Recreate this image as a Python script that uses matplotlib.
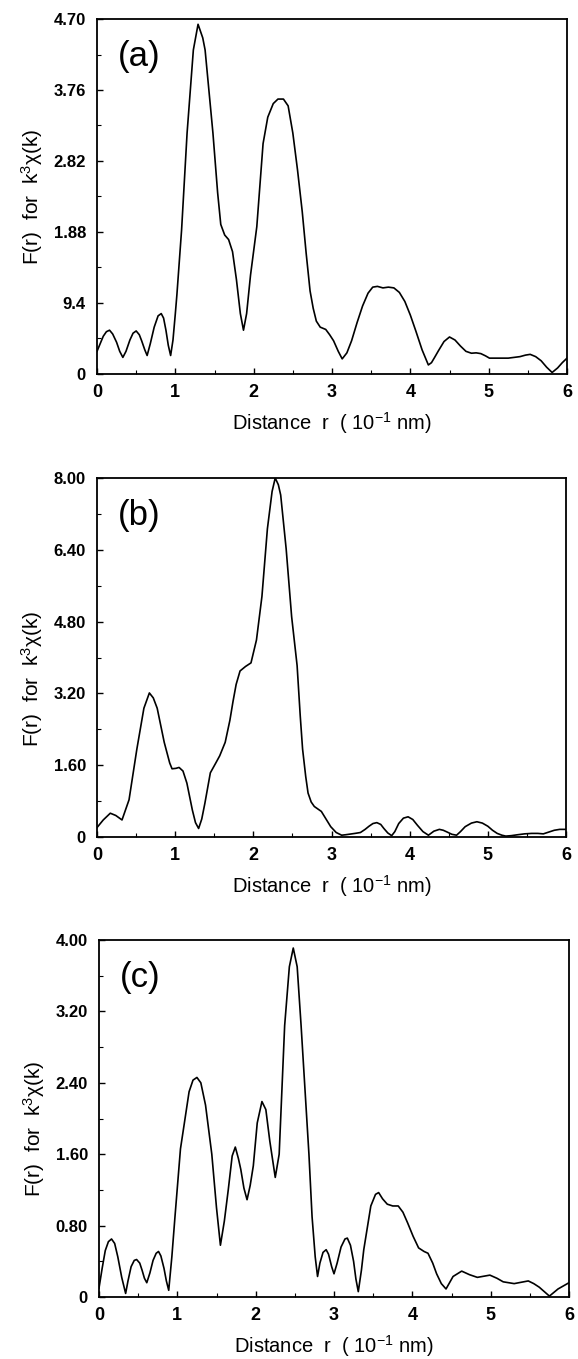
import matplotlib

matplotlib.use("Agg")
import matplotlib.pyplot as plt
from matplotlib.ticker import MultipleLocator

plt.rcParams["font.family"] = ["Liberation Sans", "DejaVu Sans"]
plt.rcParams["mathtext.fontset"] = "custom"
plt.rcParams["mathtext.rm"] = "Liberation Sans"
plt.rcParams["mathtext.it"] = "Liberation Sans:italic"

# panel (a)
r_a = [0.00, 0.04, 0.08, 0.12, 0.16, 0.20, 0.25, 0.29, 0.33, 0.37, 0.42, 0.46, 0.50, 0.54,
       0.57, 0.61, 0.64, 0.68, 0.73, 0.78, 0.82, 0.85, 0.88, 0.91, 0.94, 0.97, 1.00, 1.02,
       1.08, 1.15, 1.23, 1.29, 1.35, 1.38, 1.48, 1.54, 1.58, 1.63, 1.68, 1.73, 1.78,
       1.83, 1.87, 1.91, 1.96, 2.04, 2.12, 2.18, 2.25, 2.31, 2.38, 2.44, 2.50, 2.56, 2.62,
       2.67, 2.72, 2.76, 2.80, 2.85, 2.92, 2.97, 3.02, 3.08, 3.13, 3.19, 3.25, 3.32, 3.39,
       3.46, 3.52, 3.58, 3.65, 3.72, 3.79, 3.86, 3.93, 4.00, 4.07, 4.15, 4.23, 4.27, 4.31,
       4.36, 4.43, 4.50, 4.57, 4.64, 4.71, 4.78, 4.84, 4.90, 4.96, 5.01, 5.13, 5.25, 5.40,
       5.47, 5.53, 5.60, 5.67, 5.74, 5.81, 5.88, 5.94, 6.00]
f_a = [0.30, 0.40, 0.50, 0.56, 0.58, 0.53, 0.42, 0.30, 0.22, 0.30, 0.45, 0.54, 0.57, 0.52,
       0.44, 0.32, 0.245, 0.40, 0.62, 0.77, 0.80, 0.74, 0.58, 0.38, 0.245, 0.45, 0.80, 1.05,
       1.91, 3.19, 4.29, 4.63, 4.45, 4.29, 3.19, 2.40, 1.98, 1.84, 1.78, 1.62, 1.25,
       0.80, 0.58, 0.80, 1.31, 1.95, 3.05, 3.40, 3.58, 3.64, 3.64, 3.55, 3.19, 2.70, 2.15,
       1.60, 1.10, 0.87, 0.70, 0.62, 0.59, 0.52, 0.44, 0.30, 0.20, 0.28, 0.44, 0.68, 0.90,
       1.07, 1.15, 1.16, 1.14, 1.15, 1.14, 1.08, 0.96, 0.78, 0.57, 0.32, 0.12, 0.15, 0.22,
       0.31, 0.43, 0.49, 0.45, 0.37, 0.30, 0.275, 0.28, 0.27, 0.24, 0.21, 0.21, 0.21, 0.23,
       0.25, 0.26, 0.23, 0.175, 0.09, 0.02, 0.08, 0.15, 0.21]

# panel (b)
r_b = [0.00, 0.08, 0.17, 0.24, 0.32, 0.41, 0.51, 0.60, 0.67, 0.72, 0.77, 0.86, 0.93, 0.96,
       1.01, 1.05, 1.10, 1.15, 1.22, 1.26, 1.30, 1.34, 1.38, 1.45, 1.52, 1.57, 1.64, 1.70,
       1.74, 1.78, 1.83, 1.90, 1.97, 2.04, 2.11, 2.18, 2.24, 2.28, 2.32, 2.35, 2.42, 2.49,
       2.56, 2.60, 2.63, 2.67, 2.70, 2.74, 2.78, 2.87, 2.93, 2.99, 3.06, 3.13, 3.18, 3.22,
       3.30, 3.37, 3.43, 3.48, 3.53, 3.58, 3.63, 3.67, 3.72, 3.77, 3.81, 3.86, 3.92, 3.98,
       4.04, 4.10, 4.17, 4.24, 4.31, 4.38, 4.43, 4.48, 4.54, 4.60, 4.65, 4.71, 4.79, 4.86,
       4.93, 5.00, 5.06, 5.12, 5.18, 5.23, 5.30, 5.38, 5.47, 5.56, 5.64, 5.71, 5.78, 5.85,
       5.92, 6.00]
f_b = [0.21, 0.38, 0.53, 0.48, 0.38, 0.83, 1.96, 2.87, 3.21, 3.10, 2.87, 2.11, 1.65, 1.52,
       1.53, 1.55, 1.47, 1.20, 0.60, 0.32, 0.19, 0.40, 0.75, 1.43, 1.65, 1.81, 2.11, 2.60,
       3.02, 3.40, 3.70, 3.80, 3.88, 4.39, 5.36, 6.87, 7.70, 8.00, 7.85, 7.62, 6.42, 4.91,
       3.82, 2.70, 1.96, 1.35, 0.98, 0.78, 0.68, 0.57, 0.40, 0.23, 0.10, 0.04, 0.05, 0.06,
       0.08, 0.10, 0.17, 0.24, 0.30, 0.32, 0.28, 0.19, 0.09, 0.03, 0.12, 0.30, 0.42, 0.45,
       0.39, 0.26, 0.12, 0.04, 0.13, 0.17, 0.15, 0.11, 0.06, 0.04, 0.12, 0.23, 0.31, 0.34,
       0.31, 0.24, 0.15, 0.08, 0.04, 0.02, 0.03, 0.05, 0.07, 0.08, 0.08, 0.07, 0.11, 0.15,
       0.17, 0.17]

# panel (c)
r_c = [0.00, 0.04, 0.08, 0.12, 0.16, 0.20, 0.24, 0.29, 0.34, 0.37, 0.41, 0.45, 0.48, 0.52,
       0.55, 0.58, 0.61, 0.65, 0.69, 0.73, 0.76, 0.79, 0.83, 0.86, 0.89, 0.93, 0.97, 1.04,
       1.09, 1.15, 1.20, 1.25, 1.30, 1.36, 1.44, 1.50, 1.55, 1.60, 1.65, 1.70, 1.74, 1.78,
       1.81, 1.85, 1.89, 1.93, 1.97, 2.02, 2.08, 2.13, 2.18, 2.25, 2.30, 2.37, 2.43, 2.48,
       2.53, 2.58, 2.68, 2.72, 2.76, 2.79, 2.82, 2.86, 2.90, 2.93, 2.97, 3.00, 3.04, 3.09,
       3.14, 3.17, 3.21, 3.25, 3.28, 3.31, 3.35, 3.38, 3.47, 3.53, 3.57, 3.62, 3.68, 3.75,
       3.82, 3.88, 3.94, 4.01, 4.08, 4.15, 4.20, 4.26, 4.31, 4.37, 4.43, 4.52, 4.63, 4.73,
       4.83, 4.99, 5.08, 5.16, 5.30, 5.48, 5.55, 5.62, 5.75, 5.86, 6.00]
f_c = [0.10, 0.32, 0.52, 0.62, 0.65, 0.60, 0.45, 0.22, 0.04, 0.18, 0.34, 0.41, 0.42, 0.38,
       0.30, 0.21, 0.16, 0.27, 0.41, 0.49, 0.51, 0.46, 0.32, 0.18, 0.075, 0.45, 0.90, 1.66,
       1.95, 2.30, 2.43, 2.46, 2.40, 2.15, 1.60, 1.00, 0.58, 0.85, 1.20, 1.58, 1.68, 1.55,
       1.43, 1.22, 1.09, 1.25, 1.47, 1.95, 2.19, 2.10, 1.75, 1.34, 1.60, 3.04, 3.70, 3.91,
       3.70, 3.04, 1.60, 0.90, 0.45, 0.23, 0.38, 0.50, 0.53, 0.48, 0.34, 0.26, 0.38, 0.56,
       0.65, 0.66, 0.58, 0.40, 0.20, 0.06, 0.30, 0.53, 1.02, 1.15, 1.17, 1.10, 1.04, 1.02,
       1.02, 0.95, 0.83, 0.68, 0.55, 0.51, 0.49, 0.38, 0.26, 0.15, 0.09, 0.23, 0.29, 0.25,
       0.22, 0.245, 0.21, 0.17, 0.15, 0.18, 0.15, 0.11, 0.01, 0.09, 0.16]

yticks_a = [0, 0.94, 1.88, 2.82, 3.76, 4.70]
ylabels_a = ["0", "9.4", "1.88", "2.82", "3.76", "4.70"]
yticks_b = [0, 1.6, 3.2, 4.8, 6.4, 8.0]
ylabels_b = ["0", "1.60", "3.20", "4.80", "6.40", "8.00"]
yticks_c = [0, 0.8, 1.6, 2.4, 3.2, 4.0]
ylabels_c = ["0", "0.80", "1.60", "2.40", "3.20", "4.00"]
xticks = [0, 1, 2, 3, 4, 5, 6]

W, H = 578, 1359
fig = plt.figure(figsize=(W / 100, H / 100), dpi=100)

panels = [
    ("(a)", r_a, f_a, yticks_a, ylabels_a, (97, 19, 567, 374), 0.50),
    ("(b)", r_b, f_b, yticks_b, ylabels_b, (97, 478, 566, 837), 0.44),
    ("(c)", r_c, f_c, yticks_c, ylabels_c, (99, 940, 569, 1297), 0.47),
]

for tag, r, f, yt, yl, (x0, y0, x1, y1), ylab_y in panels:
    ax = fig.add_axes([x0 / W, 1 - y1 / H, (x1 - x0) / W, (y1 - y0) / H])
    ax.plot(r, f, color="black", lw=1.2)
    ax.set_xlim(0, 6)
    ax.set_ylim(0, yt[-1])
    ax.set_xticks(xticks)
    ax.set_xticklabels([str(v) for v in xticks], fontsize=13, fontweight="bold")
    ax.set_yticks(yt)
    ax.set_yticklabels(yl, fontsize=12, fontweight="bold")
    ax.xaxis.set_minor_locator(MultipleLocator(0.5))
    ax.yaxis.set_minor_locator(MultipleLocator(yt[1] / 2))
    ax.tick_params(which="both", direction="in", top=False, right=False)
    ax.tick_params(which="major", length=4, width=1.0)
    ax.tick_params(which="minor", length=3, width=0.8)
    ax.tick_params(axis="x", pad=7)
    ax.tick_params(axis="y", pad=8)
    for s in ax.spines.values():
        s.set_linewidth(1.3)
    ax.set_xlabel("Distance  r  ( 10$^{-1}$ nm)", fontsize=14.5, labelpad=7)
    ax.set_ylabel("F(r)  for  k$^{3}$χ(k)", fontsize=15, labelpad=6)
    ax.yaxis.set_label_coords(-0.11, ylab_y)
    ax.text(0.045, 0.895, tag, transform=ax.transAxes, fontsize=25,
            ha="left", va="center")

fig.savefig("out.png", dpi=100, facecolor="white")
